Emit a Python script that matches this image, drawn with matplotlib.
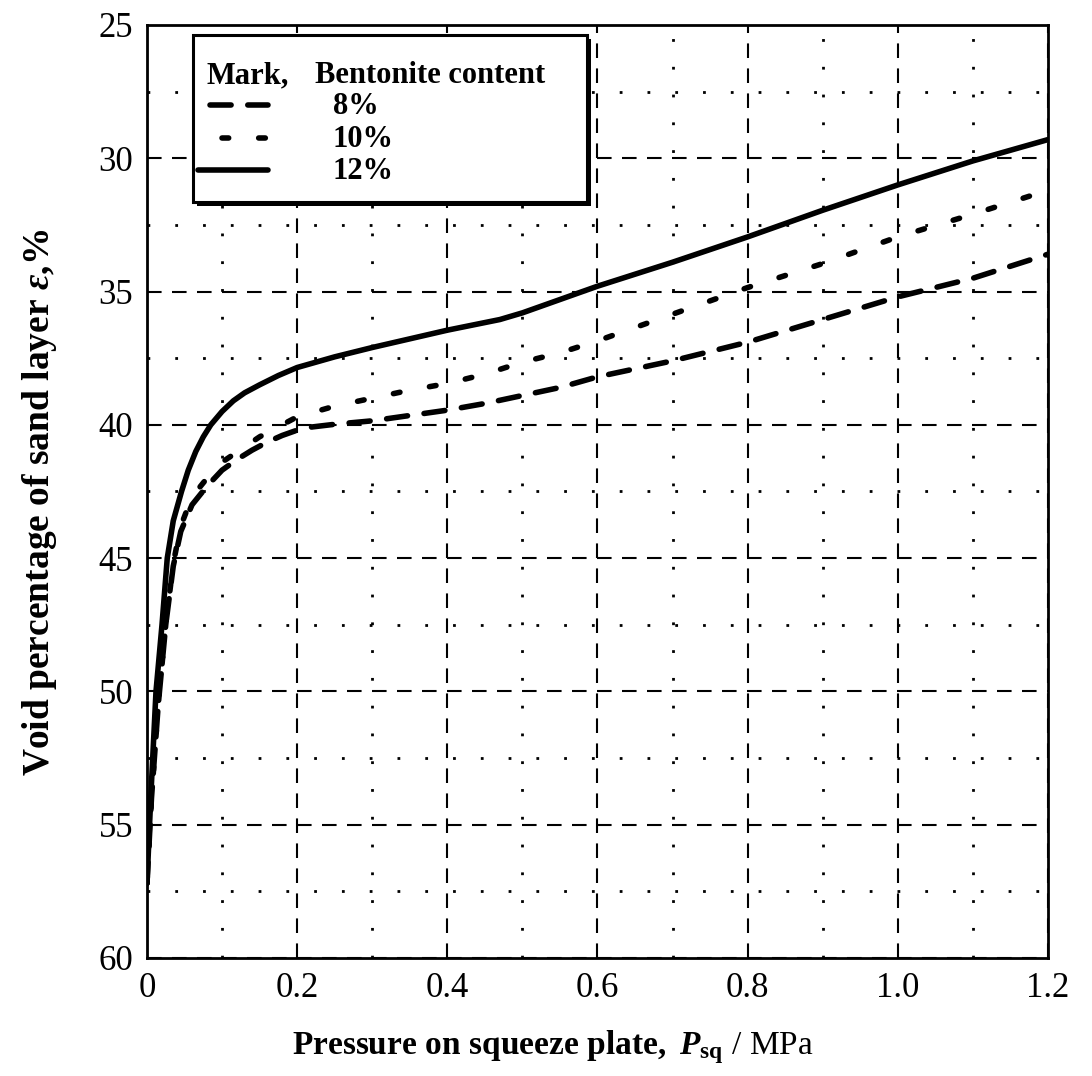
import matplotlib
matplotlib.use("Agg")
import matplotlib.pyplot as plt
from matplotlib.ticker import MultipleLocator, FormatStrFormatter
from matplotlib.patches import Rectangle
from matplotlib.lines import Line2D

plt.rcParams['font.family'] = ['Liberation Serif', 'DejaVu Serif']
plt.rcParams['mathtext.fontset'] = 'custom'
plt.rcParams['mathtext.rm'] = 'Liberation Serif'
plt.rcParams['mathtext.bf'] = 'Liberation Serif:bold'
plt.rcParams['mathtext.it'] = 'Liberation Serif:italic:bold'

# pressure on squeeze plate (MPa) and void percentage (%)
x_8 = [0, 0.006, 0.015, 0.025, 0.035, 0.045, 0.06, 0.08, 0.1, 0.12, 0.14, 0.16, 0.18,
       0.2, 0.22, 0.25, 0.3, 0.35, 0.4, 0.45, 0.5, 0.55, 0.6, 0.7, 0.8, 0.9, 1.0, 1.1, 1.2]
y_8 = [57.2, 54, 50.5, 47.5, 45.3, 44.0, 43.0, 42.3, 41.7, 41.3, 40.95, 40.65, 40.4,
       40.2, 40.08, 39.98, 39.85, 39.65, 39.45, 39.2, 38.9, 38.6, 38.2, 37.6, 36.9,
       36.05, 35.2, 34.5, 33.6]

x_10 = [0, 0.006, 0.015, 0.025, 0.035, 0.045, 0.06, 0.08, 0.1, 0.15, 0.2, 0.25,
        0.3, 0.35, 0.4, 0.45, 0.5, 0.55, 0.6, 0.7, 0.8, 0.9, 1.0, 1.1, 1.2]
y_10 = [57.2, 54, 50.5, 47.5, 45.2, 43.8, 42.7, 42.0, 41.4, 40.45, 39.7, 39.3,
        39.0, 38.7, 38.45, 38.1, 37.65, 37.3, 36.85, 35.85, 34.85, 33.95, 32.95, 32.1, 31.2]

x_12 = [0, 0.005, 0.012, 0.02, 0.027, 0.035, 0.046, 0.055, 0.065, 0.075, 0.085, 0.1,
        0.115, 0.13, 0.15, 0.175, 0.2, 0.25, 0.3, 0.4, 0.47, 0.5, 0.6, 0.7, 0.8, 0.9,
        1.0, 1.1, 1.2]
y_12 = [57.2, 54, 50, 47.5, 45, 43.6, 42.5, 41.7, 41.0, 40.45, 40.0, 39.5,
        39.1, 38.8, 38.5, 38.15, 37.85, 37.45, 37.1, 36.45, 36.05, 35.8, 34.8, 33.9,
        32.95, 31.95, 31.0, 30.1, 29.3]

labels = ['8%', '10%', '12%']
styles = [(0, (3.8, 3.0)), (0, (1.2, 5.4)), '-']

fig = plt.figure(figsize=(10.92, 10.76), dpi=100)
ax = fig.add_axes([0.1346, 0.1097, 0.8251, 0.8671])

lw = 4
for xs, ys, ls, lab in zip([x_8, x_10, x_12], [y_8, y_10, y_12], styles, labels):
    ax.plot(xs, ys, color='black', lw=lw, linestyle=ls, dash_capstyle='round',
            solid_capstyle='round', solid_joinstyle='round', label=lab, zorder=3)

ax.set_xlim(0, 1.2)
ax.set_ylim(60, 25)
ax.xaxis.set_major_locator(MultipleLocator(0.2))
ax.xaxis.set_minor_locator(MultipleLocator(0.1))
ax.yaxis.set_major_locator(MultipleLocator(5))
ax.yaxis.set_minor_locator(MultipleLocator(2.5))

def xfmt(v, pos):
    if abs(v) < 1e-9:
        return '0'
    return '%.1f' % v
ax.xaxis.set_major_formatter(plt.FuncFormatter(xfmt))
ax.yaxis.set_major_formatter(FormatStrFormatter('%d'))

ax.grid(which='major', color='black', lw=1.5, linestyle=(0, (7, 5)))
ax.grid(which='minor', color='black', lw=2, linestyle=(0, (1, 9)))
ax.set_axisbelow(True)

ax.tick_params(which='both', length=0, labelsize=25, pad=10)
for s in ax.spines.values():
    s.set_linewidth(2)

ax.set_xlabel(r'$\mathbf{Pressure\ on\ squeeze\ plate,}\ \mathit{P}_{\mathbf{sq}}\ \mathrm{/\ MPa}$',
              fontsize=24)
ax.xaxis.set_label_coords(0.45, -0.075)
ax.set_ylabel(r'Void percentage of sand layer $\varepsilon$,%', fontsize=27,
              fontweight='bold')
ax.yaxis.set_label_coords(-0.098, 0.488)

# legend box drawn by hand (thick frame with a black drop shadow)
def fx(px):
    return (px - 147) / 901.0

def fy(py):
    return (958 - py) / 933.0

bx0, bx1, by0, by1 = fx(193), fx(587), fy(202), fy(35)
sh = Rectangle((bx0 + 4 / 901.0, by0 - 4 / 933.0), bx1 - bx0, by1 - by0,
               transform=ax.transAxes, facecolor='black', edgecolor='black',
               lw=0, zorder=5)
box = Rectangle((bx0, by0), bx1 - bx0, by1 - by0, transform=ax.transAxes,
                facecolor='white', edgecolor='black', lw=2.2, zorder=6)
ax.add_patch(sh)
ax.add_patch(box)

ax.text(fx(207), fy(83), 'Mark,', transform=ax.transAxes, fontsize=22,
        fontweight='bold', va='baseline', ha='left', zorder=7)
ax.text(fx(315), fy(83), 'Bentonite content', transform=ax.transAxes, fontsize=22,
        fontweight='bold', va='baseline', ha='left', zorder=7)

row_y = [105, 138, 170]
hx0 = [210, 222, 198]
for ry, x0, ls, lab in zip(row_y, hx0, styles, labels):
    ax.add_line(Line2D([fx(x0), fx(268)], [fy(ry), fy(ry)], transform=ax.transAxes,
                       color='black', lw=lw, linestyle=ls, dash_capstyle='round',
                       solid_capstyle='round', zorder=7))
    ax.text(fx(333), fy(ry + 9), lab, transform=ax.transAxes, fontsize=22,
            fontweight='bold', va='baseline', ha='left', zorder=7)

fig.savefig('out.png', dpi=100)
